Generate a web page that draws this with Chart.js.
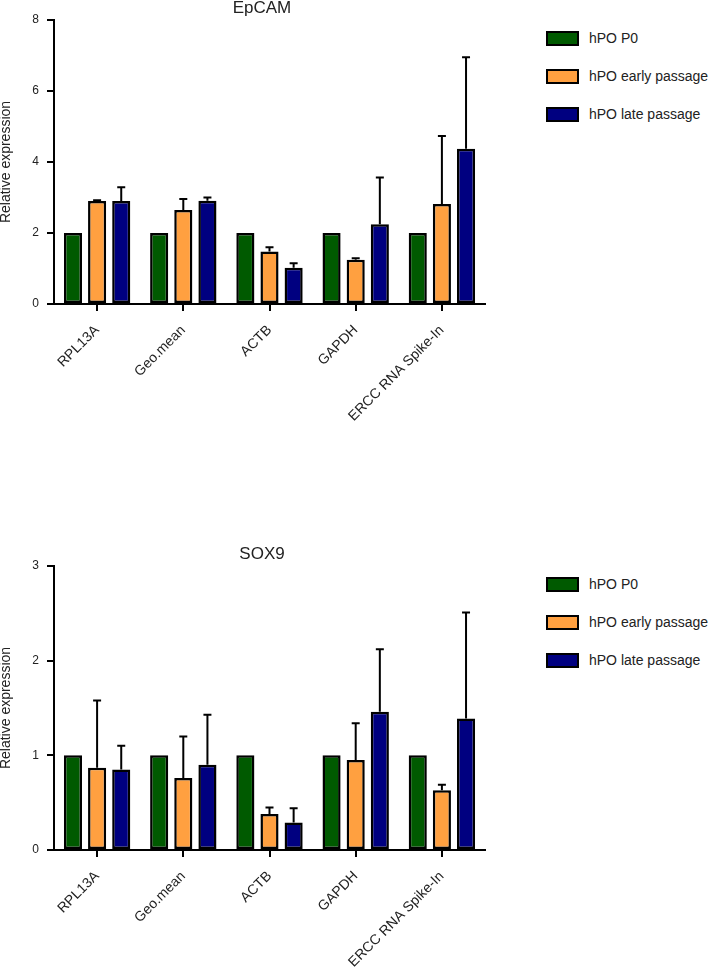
<!DOCTYPE html>
<html>
<head>
<meta charset="utf-8">
<script src="https://cdn.jsdelivr.net/npm/chart.js@4/dist/chart.umd.min.js"></script>
<style>
body{margin:0;width:712px;height:968px;overflow:hidden;background:#fff;position:relative;font-family:"Liberation Sans",Arial,sans-serif}
canvas{position:absolute;left:0}
.legend{position:absolute;left:546px}
.legend .item{position:relative;height:15px;margin-bottom:23px}
.legend .box{position:absolute;left:0;top:0;width:33px;height:15px;box-sizing:border-box;border:2.5px solid #000}
.legend .txt{position:absolute;left:43px;top:0;font-size:14px;line-height:15px;color:#222;white-space:nowrap}
</style>
</head>
<body>
<canvas id="epcam_chart" width="524" height="425" style="top:0"></canvas>
<div class="legend" id="epcam_legend" style="top:31px"></div>
<canvas id="sox9_chart" width="524" height="425" style="top:546px"></canvas>
<div class="legend" id="sox9_legend" style="top:577px"></div>
<script>
var categories = ['RPL13A', 'Geo.mean', 'ACTB', 'GAPDH', 'ERCC RNA Spike-In'];
var series_names = ['hPO P0', 'hPO early passage', 'hPO late passage'];
var series_colors = ['#005A00', '#FFA040', '#000080'];

// EpCAM
var epcam_p0 = [2, 2, 2, 2, 2];
var epcam_early = [2.90, 2.65, 1.48, 1.25, 2.82];
var epcam_early_sd = [0.02, 0.31, 0.12, 0.04, 1.91];
var epcam_late = [2.90, 2.91, 1.02, 2.25, 4.37];
var epcam_late_sd = [0.39, 0.09, 0.13, 1.31, 2.58];
var epcam_ticks = [0, 2, 4, 6, 8];

// SOX9
var sox9_p0 = [1, 1, 1, 1, 1];
var sox9_early = [0.87, 0.76, 0.38, 0.95, 0.63];
var sox9_early_sd = [0.71, 0.44, 0.07, 0.39, 0.06];
var sox9_late = [0.85, 0.90, 0.29, 1.46, 1.39];
var sox9_late_sd = [0.25, 0.53, 0.15, 0.66, 1.12];
var sox9_ticks = [0, 1, 2, 3];

var font_family = '"Liberation Sans", Arial, sans-serif';

// one sided (upper) error bars
var errorBars = {
    id: 'errorBars',
    afterDatasetsDraw: function(chart) {
        var ctx = chart.ctx;
        var y = chart.scales.y;
        ctx.save();
        ctx.strokeStyle = '#000';
        ctx.lineWidth = 2;
        chart.data.datasets.forEach(function(ds, i) {
            if (!ds.errors) return;
            chart.getDatasetMeta(i).data.forEach(function(bar, j) {
                var top = y.getPixelForValue(ds.data[j] + ds.errors[j]);
                ctx.beginPath();
                ctx.moveTo(bar.x, bar.y);
                ctx.lineTo(bar.x, top);
                ctx.moveTo(bar.x - 4, top);
                ctx.lineTo(bar.x + 4, top);
                ctx.stroke();
            });
        });
        ctx.restore();
    }
};

function makeDataset(i, values, errors) {
    return {
        label: series_names[i],
        data: values,
        errors: errors,
        backgroundColor: series_colors[i],
        borderColor: '#000',
        borderWidth: 2.5,
        borderSkipped: false,
        categoryPercentage: 0.84,
        barPercentage: 0.75
    };
}

function makeChart(id, title, datasets, ticks) {
    var ctx = document.getElementById(id).getContext('2d');
    return new Chart(ctx, {
        type: 'bar',
        data: {labels: categories, datasets: datasets},
        plugins: [errorBars],
        options: {
            responsive: false,
            animation: false,
            layout: {padding: 0},
            plugins: {
                legend: {display: false},
                tooltip: {enabled: false},
                title: {
                    display: true,
                    text: title,
                    color: '#222',
                    font: {family: font_family, size: 17, weight: 'normal', lineHeight: 1},
                    padding: {top: 0, bottom: 3}
                }
            },
            scales: {
                x: {
                    grid: {drawOnChartArea: false, offset: false, color: '#000', lineWidth: 2, tickLength: 7},
                    border: {color: '#000', width: 2},
                    ticks: {
                        color: '#222', autoSkip: false, maxRotation: 45, minRotation: 45, padding: 11,
                        font: {family: font_family, size: 14}
                    },
                    afterFit: function(s) { s.height = 121; }
                },
                y: {
                    min: ticks[0],
                    max: ticks[ticks.length - 1],
                    afterBuildTicks: function(s) {
                        s.ticks = ticks.map(function(v) { return {value: v}; });
                    },
                    grid: {drawOnChartArea: false, color: '#000', lineWidth: 2, tickLength: 7},
                    border: {color: '#000', width: 2},
                    ticks: {color: '#222', padding: 8, font: {family: font_family, size: 12}},
                    title: {
                        display: true,
                        text: 'Relative expression',
                        color: '#222',
                        font: {family: font_family, size: 14, lineHeight: 1},
                        padding: {top: -1, bottom: 0}
                    },
                    afterFit: function(s) { s.width = 54; }
                },
                // empty right box so the plot ends where the title is centred
                y2: {
                    position: 'right',
                    grid: {display: false},
                    border: {display: false},
                    ticks: {display: false},
                    afterFit: function(s) { s.width = 39; }
                }
            }
        }
    });
}

function makeLegend(id) {
    var html = '';
    for (var i = 0; i < series_names.length; i++) {
        html +=
            "<div class='item'>" +
            "<span class='box' style='background:" + series_colors[i] + "'></span>" +
            "<span class='txt'>" + series_names[i] + "</span>" +
            "</div>";
    }
    document.getElementById(id).innerHTML = html;
}

var epcamChart = makeChart('epcam_chart', 'EpCAM', [
    makeDataset(0, epcam_p0, null),
    makeDataset(1, epcam_early, epcam_early_sd),
    makeDataset(2, epcam_late, epcam_late_sd)
], epcam_ticks);
makeLegend('epcam_legend');

var sox9Chart = makeChart('sox9_chart', 'SOX9', [
    makeDataset(0, sox9_p0, null),
    makeDataset(1, sox9_early, sox9_early_sd),
    makeDataset(2, sox9_late, sox9_late_sd)
], sox9_ticks);
makeLegend('sox9_legend');
</script>
</body>
</html>
